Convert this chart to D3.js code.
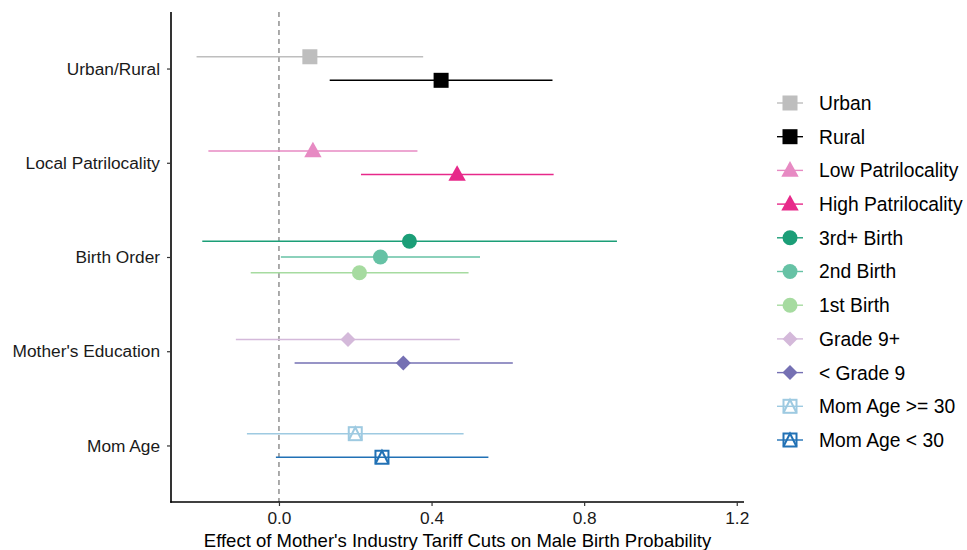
<!DOCTYPE html>
<html>
  <head>
    <style>
      body { margin: 0; background: #fff; }
      text { font-family: "Liberation Sans", Arial, sans-serif; }
    </style>
  </head>

  <body>

    <svg class="surface" width="967" height="550"></svg>

    <script src="https://cdn.jsdelivr.net/npm/d3@7"></script>
    <script>

      // data
      const categories = ['Urban/Rural', 'Local Patrilocality', 'Birth Order', "Mother's Education", 'Mom Age']
      const groups = ['Urban', 'Rural', 'Low Patrilocality', 'High Patrilocality', '3rd+ Birth', '2nd Birth',
                      '1st Birth', 'Grade 9+', '< Grade 9', 'Mom Age >= 30', 'Mom Age < 30']
      const groupCategory = [0, 0, 1, 1, 2, 2, 2, 3, 3, 4, 4]
      const estimates = [0.081, 0.425, 0.089, 0.467, 0.342, 0.266, 0.211, 0.181, 0.326, 0.200, 0.270]
      const lower = [-0.216, 0.133, -0.185, 0.215, -0.201, 0.005, -0.074, -0.113, 0.041, -0.084, -0.008]
      const upper = [0.378, 0.717, 0.363, 0.720, 0.886, 0.527, 0.497, 0.474, 0.613, 0.484, 0.549]
      const xTicks = [0, 0.4, 0.8, 1.2]

      const colors = ['#bebebe', '#000000', '#e78ac3', '#e7298a', '#1b9e77', '#66c2a5',
                      '#a6dba0', '#d4b9da', '#7570b3', '#9ecae1', '#2171b5']
      const shapes = ['square', 'square', 'triangle', 'triangle', 'circle', 'circle',
                      'circle', 'diamond', 'diamond', 'sqtri', 'sqtri']

      const surface = d3.select('.surface')
      const pLeft = 171, pRight = 744, pTop = 12, pBottom = 502

      const x = d3.scaleLinear().domain([-0.283, 1.219]).range([pLeft, pRight])
      const y = d3.scalePoint().domain(categories).range([pTop, pBottom]).padding(0.6)
      const step = y.step()

      const rows = groups.map((g, i) => {
        const cat = groupCategory[i]
        const members = groups.filter((_, j) => groupCategory[j] === cat)
        const k = members.indexOf(g)
        const n = members.length
        const off = (k - (n - 1) / 2) * (0.5 / n) * step
        return { g, i, cat: categories[cat], est: estimates[i], lo: lower[i], hi: upper[i], yy: y(categories[cat]) + off }
      })

      function marker(sel, shape, color, s) {
        if (shape === 'square') {
          sel.append('rect').attr('x', -s / 2).attr('y', -s / 2).attr('width', s).attr('height', s).attr('fill', color)
        } else if (shape === 'triangle') {
          const h = s * 1.0
          sel.append('path').attr('d', `M0,${-h * 0.62}L${s * 0.58},${h * 0.42}L${-s * 0.58},${h * 0.42}Z`).attr('fill', color)
        } else if (shape === 'circle') {
          sel.append('circle').attr('r', s / 2).attr('fill', color)
        } else if (shape === 'diamond') {
          const d = s * 0.5
          sel.append('path').attr('d', `M0,${-d}L${d},0L0,${d}L${-d},0Z`).attr('fill', color)
        } else if (shape === 'sqtri') {
          const d = s / 2 - 1
          sel.append('rect').attr('x', -d).attr('y', -d).attr('width', 2 * d).attr('height', 2 * d)
            .attr('fill', 'none').attr('stroke', color).attr('stroke-width', 2)
          sel.append('path').attr('d', `M${-d},${d}L0,${-d}L${d},${d}`)
            .attr('fill', 'none').attr('stroke', color).attr('stroke-width', 2)
        }
      }

      // zero reference line
      surface.append('line')
        .attr('x1', x(0)).attr('x2', x(0)).attr('y1', pTop).attr('y2', pBottom)
        .attr('stroke', '#7f7f7f').attr('stroke-width', 1.3).attr('stroke-dasharray', '5,4')

      // error bars
      surface.selectAll('line.ci').data(rows).enter()
        .append('line').attr('class', 'ci')
        .attr('x1', d => x(d.lo)).attr('x2', d => x(d.hi))
        .attr('y1', d => d.yy).attr('y2', d => d.yy)
        .attr('stroke', d => colors[d.i]).attr('stroke-width', 1.4)

      // points
      surface.selectAll('g.pt').data(rows).enter()
        .append('g').attr('class', 'pt')
        .attr('transform', d => `translate(${x(d.est)},${d.yy})`)
        .each(function (d) { marker(d3.select(this), shapes[d.i], colors[d.i], 15) })

      // axes
      const xAxis = surface.append('g').attr('transform', `translate(0,${pBottom})`)
        .call(d3.axisBottom(x).tickValues(xTicks).tickFormat(d3.format('.1f')).tickSize(4).tickSizeOuter(0))
      const yAxis = surface.append('g').attr('transform', `translate(${pLeft},0)`)
        .call(d3.axisLeft(y).tickSize(4).tickSizeOuter(0))
      ;[xAxis, yAxis].forEach(a => {
        a.select('.domain').attr('stroke', '#000').attr('stroke-width', 1.6)
        a.selectAll('.tick line').attr('stroke', '#333').attr('stroke-width', 1.2)
        a.selectAll('.tick text').attr('fill', '#1a1a1a').attr('font-size', 17.3)
          .attr('font-family', '"Liberation Sans", Arial, sans-serif')
      })
      xAxis.select('.domain').attr('d', `M${pLeft - 0.8},0H${pRight}`)
      yAxis.select('.domain').attr('d', `M0,${pTop}V${pBottom + 0.8}`)
      xAxis.selectAll('.tick text').attr('dy', '0.85em')
      yAxis.selectAll('.tick text').attr('x', -11)

      surface.append('text')
        .attr('x', (pLeft + pRight) / 2).attr('y', 547)
        .attr('text-anchor', 'middle').attr('font-size', 18.5).attr('fill', '#000')
        .text("Effect of Mother's Industry Tariff Cuts on Male Birth Probability")

      // legend
      const legend = surface.append('g').attr('transform', 'translate(790,103)')
      const item = legend.selectAll('g').data(rows).enter()
        .append('g').attr('transform', (d, k) => `translate(0,${k * 33.7})`)
      item.append('line').attr('x1', -13).attr('x2', 13)
        .attr('stroke', d => colors[d.i]).attr('stroke-width', 1.4)
      item.each(function (d) { marker(d3.select(this), shapes[d.i], colors[d.i], 15) })
      item.append('text').attr('x', 29).attr('dy', '0.36em')
        .attr('font-size', 19.3).attr('fill', '#000').text(d => d.g)

    </script>
  </body>

</html>
